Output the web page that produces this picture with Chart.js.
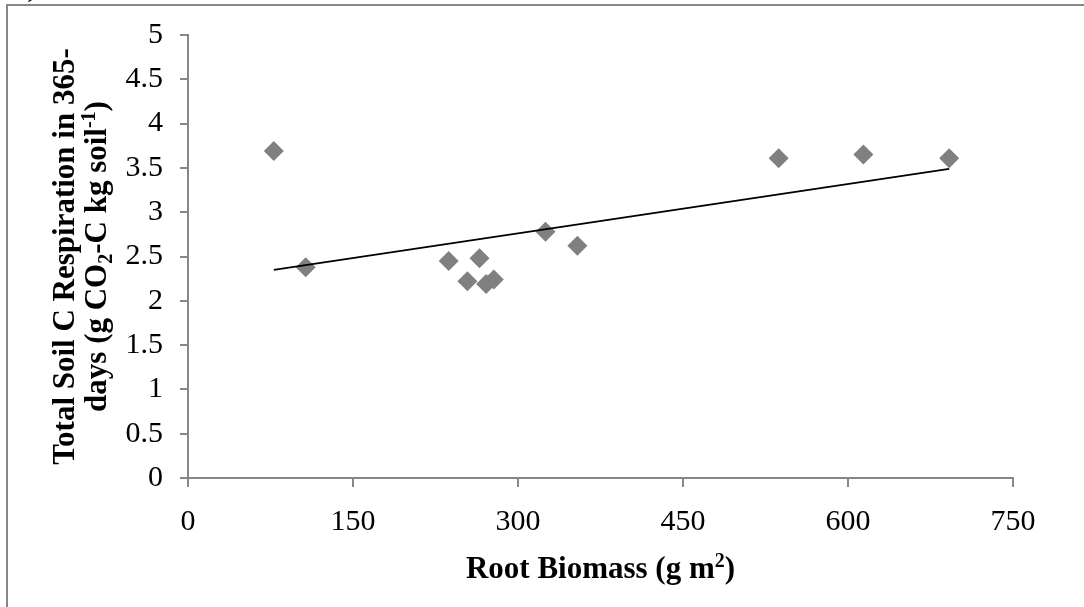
<!DOCTYPE html>
<html>
<head>
<meta charset="utf-8">
<script src="https://cdn.jsdelivr.net/npm/chart.js@4"></script>
<style>
  html, body { margin: 0; padding: 0; background: #fff; overflow: hidden; }
  #wrap { position: relative; width: 1084px; height: 607px; overflow: hidden; }
  #frame { position: absolute; left: 6px; top: 4px; width: 1200px; height: 800px;
           border-left: 2px solid #878787; border-top: 2px solid #878787; }
  #tag { position: absolute; left: 14px; top: -31px; font: 30px 'Liberation Serif'; color: #000; }
  canvas { position: absolute; left: 0; top: 0; }
</style>
</head>
<body>
<div id="wrap">
  <div id="frame"></div>
  <div id="tag">a)</div>
  <canvas id="respChart" width="1084" height="607"></canvas>
</div>
<script>
// root biomass (g m2) vs total soil C respiration over 365 days
const rootBiomass = [78, 107, 237, 254, 265, 271, 278, 325, 354, 537, 614, 692];
const respiration = [3.69, 2.38, 2.45, 2.22, 2.48, 2.19, 2.24, 2.78, 2.62, 3.61, 3.65, 3.61];

// linear trendline end points
const trendX = [78, 692];
const trendY = [2.35, 3.49];

const xTicks = [0, 150, 300, 450, 600, 750];
const yTicks = [0, 0.5, 1, 1.5, 2, 2.5, 3, 3.5, 4, 4.5, 5];

const xTitle = [{ t: 'Root Biomass (g m' }, { t: '2', sup: true }, { t: ')' }];
const yTitle = [
  [{ t: 'Total Soil C Respiration in 365-' }],
  [{ t: 'days (g CO' }, { t: '2', sub: true }, { t: '-C kg soil' }, { t: '-1', sup: true }, { t: ')' }]
];

const FONT = "'Liberation Serif', 'Times New Roman', serif";
const AXIS = '#878787';

// draws a line of text with sub/superscripts, centred on (0,0) baseline
function richLine(ctx, parts, size) {
  const small = Math.round(size * 0.65);
  let w = 0;
  parts.forEach(p => {
    ctx.font = 'bold ' + (p.sub || p.sup ? small : size) + 'px ' + FONT;
    p.w = ctx.measureText(p.t).width;
    w += p.w;
  });
  let x = -w / 2;
  parts.forEach(p => {
    ctx.font = 'bold ' + (p.sub || p.sup ? small : size) + 'px ' + FONT;
    let dy = 0;
    if (p.sub) dy = size * 0.2;
    if (p.sup) dy = -size * 0.36;
    ctx.fillText(p.t, x, dy);
    x += p.w;
  });
}

const titlePlugin = {
  id: 'titles',
  afterDraw(chart) {
    const ctx = chart.ctx;
    const a = chart.chartArea;
    ctx.save();
    ctx.fillStyle = '#000';
    ctx.textBaseline = 'alphabetic';
    ctx.textAlign = 'left';
    // x title
    ctx.save();
    ctx.translate((a.left + a.right) / 2, a.bottom + 100);
    richLine(ctx, xTitle, 31);
    ctx.restore();
    // y title, two lines
    const cy = (a.top + a.bottom) / 2;
    [a.left - 114, a.left - 82].forEach((bx, i) => {
      ctx.save();
      ctx.translate(bx, cy);
      ctx.rotate(-Math.PI / 2);
      richLine(ctx, yTitle[i], 31);
      ctx.restore();
    });
    ctx.restore();
  }
};

new Chart(document.getElementById('respChart'), {
  type: 'scatter',
  data: {
    datasets: [
      {
        type: 'line',
        label: 'Trend',
        data: trendX.map((x, i) => ({ x: x, y: trendY[i] })),
        borderColor: '#000',
        borderWidth: 1.7,
        pointRadius: 0,
        fill: false,
        order: 0
      },
      {
        label: 'Respiration',
        data: rootBiomass.map((x, i) => ({ x: x, y: respiration[i] })),
        pointStyle: 'rectRot',
        pointRadius: 10,
        pointHoverRadius: 10,
        backgroundColor: '#808080',
        borderColor: '#808080',
        borderWidth: 0,
        order: 1
      }
    ]
  },
  plugins: [titlePlugin],
  options: {
    responsive: false,
    animation: false,
    layout: { padding: { top: 35, right: 71, left: 0, bottom: 0 } },
    plugins: { legend: { display: false }, tooltip: { enabled: false } },
    scales: {
      x: {
        type: 'linear',
        min: 0,
        max: 750,
        afterBuildTicks: s => { s.ticks = xTicks.map(v => ({ value: v })); },
        afterFit: s => { s.height = 129; },
        border: { color: AXIS, width: 2 },
        grid: { drawOnChartArea: false, drawTicks: true, tickLength: 9, color: AXIS, lineWidth: 2 },
        ticks: { color: '#000', padding: 17, font: { family: FONT, size: 30 }, callback: v => String(v) }
      },
      y: {
        type: 'linear',
        min: 0,
        max: 5,
        afterBuildTicks: s => { s.ticks = yTicks.map(v => ({ value: v })); },
        afterFit: s => { s.width = 188; },
        border: { color: AXIS, width: 2 },
        grid: { drawOnChartArea: false, drawTicks: true, tickLength: 8, color: AXIS, lineWidth: 2 },
        ticks: { color: '#000', padding: 17, font: { family: FONT, size: 30 }, callback: v => String(v) }
      }
    }
  }
});
</script>
</body>
</html>
